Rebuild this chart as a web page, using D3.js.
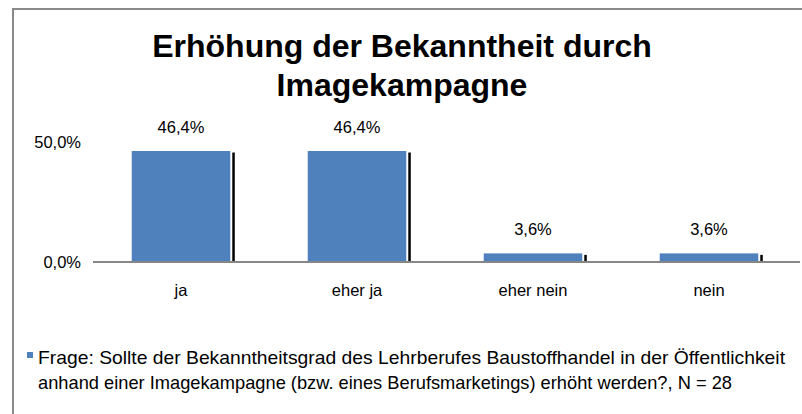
<!DOCTYPE html>
<html><head><meta charset="utf-8">
<script src="https://cdn.jsdelivr.net/npm/d3@7"></script>
<style>
html,body{margin:0;padding:0;background:#fff;}
svg{display:block;font-family:"Liberation Sans",Arial,sans-serif;}
</style></head><body>
<script>
const categories = ["ja", "eher ja", "eher nein", "nein"];
const values = [46.4, 46.4, 3.6, 3.6];
const valueLabels = ["46,4%", "46,4%", "3,6%", "3,6%"];
const yTicks = [0, 50];
const yTickLabels = ["0,0%", "50,0%"];
const titleLines = ["Erhöhung der Bekanntheit durch", "Imagekampagne"];
const legendLines = ["Frage: Sollte der Bekanntheitsgrad des Lehrberufes Baustoffhandel in der Öffentlichkeit",
                     "anhand einer Imagekampagne (bzw. eines Berufsmarketings) erhöht werden?, N = 28"];
const legendWidths = [747, 694];

const W = 802, H = 414;
const FONT = "Liberation Sans, Arial, sans-serif";
const svg = d3.select("body").append("svg").attr("width", W).attr("height", H);

// frame (left and top)
svg.append("path").attr("d", `M13,${H} L13,9 L${W},9`).attr("fill","none").attr("stroke","#8a8a8a").attr("stroke-width",2);

// title
svg.selectAll("text.title").data(titleLines).enter().append("text")
  .attr("class","title").attr("x", 402).attr("y",(d,i)=>57+i*38.5)
  .attr("text-anchor","middle").attr("font-size",32).attr("font-weight","bold").attr("fill","#000")
  .text(d=>d);

const x = d3.scaleBand().domain(categories).range([93, 797]).paddingInner(0.44).paddingOuter(0.22);
const y = d3.scaleLinear().domain([0, 50]).range([262, 142.4]);

// bars
const g = svg.append("g");
g.selectAll("rect.shadow").data(values).enter().append("rect")
  .attr("x",(d,i)=>x(categories[i])+x.bandwidth()+2).attr("width",2.5)
  .attr("y",d=>y(d)+1.5).attr("height",d=>y(0)-y(d)-1.5).attr("fill","#000");
g.selectAll("rect.bar").data(values).enter().append("rect")
  .attr("x",(d,i)=>x(categories[i])).attr("width",x.bandwidth())
  .attr("y",d=>y(d)).attr("height",d=>y(0)-y(d)).attr("fill","#4F81BD");

// value labels
g.selectAll("text.val").data(values).enter().append("text")
  .attr("x",(d,i)=>x(categories[i])+x.bandwidth()/2).attr("y",d=>y(d)-18)
  .attr("text-anchor","middle").attr("font-size",16.5).attr("fill","#000")
  .text((d,i)=>valueLabels[i]);

// x axis
const xAxis = d3.axisBottom(x).tickSize(0).tickPadding(22);
const xg = svg.append("g").attr("transform",`translate(0,${y(0)})`).call(xAxis);
xg.select(".domain").attr("d",`M93,0H800`).attr("stroke","#868686").attr("stroke-width",2);
xg.selectAll("text").attr("font-size",16.5).attr("font-family",FONT).attr("fill","#000");

// y axis labels
const yAxis = d3.axisLeft(y).tickValues(yTicks).tickSize(0).tickPadding(0).tickFormat((d,i)=>yTickLabels[i]);
const yg = svg.append("g").attr("transform","translate(81,0)").call(yAxis);
yg.select(".domain").remove();
yg.selectAll("text").attr("font-size",16.5).attr("font-family",FONT).attr("fill","#000");

// legend
svg.append("rect").attr("x",27).attr("y",352).attr("width",6).attr("height",6).attr("fill","#4F81BD");
svg.selectAll("text.leg").data(legendLines).enter().append("text")
  .attr("x",38).attr("y",(d,i)=>364+i*24.5).attr("font-size",19).attr("fill","#000")
  .attr("textLength",(d,i)=>legendWidths[i]).attr("lengthAdjust","spacingAndGlyphs")
  .text(d=>d);
</script>
</body></html>
